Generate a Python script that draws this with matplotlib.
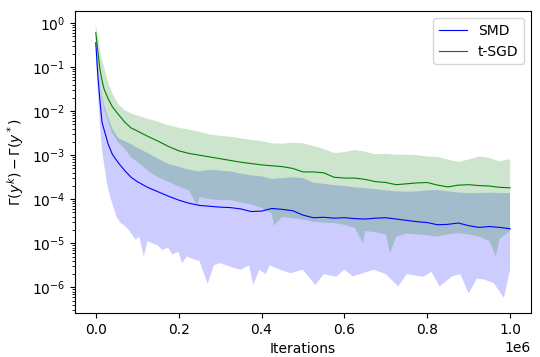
import numpy as np
import matplotlib
matplotlib.use("Agg")
import matplotlib.pyplot as plt

# iteration positions (in units of 1e6) for mean curves and upper bands
iters = [0, 0.005, 0.01, 0.015, 0.02, 0.03, 0.04, 0.055, 0.07, 0.085,
         0.1, 0.125, 0.15, 0.175, 0.2, 0.225, 0.25, 0.275, 0.3, 0.325,
         0.35, 0.375, 0.4, 0.425, 0.45, 0.475, 0.5, 0.525, 0.55, 0.575,
         0.6, 0.625, 0.65, 0.675, 0.7, 0.725, 0.75, 0.775, 0.8, 0.825,
         0.85, 0.875, 0.9, 0.925, 0.95, 0.975, 1.0]

# values, stored as log10 exponents
smd_mean = [-0.45, -1.2, -1.75, -2.25, -2.42, -2.75, -2.98, -3.18, -3.35, -3.5,
            -3.6, -3.73, -3.83, -3.93, -4.02, -4.09, -4.14, -4.16, -4.18, -4.19,
            -4.22, -4.28, -4.27, -4.21, -4.23, -4.26, -4.36, -4.42, -4.41, -4.43,
            -4.42, -4.44, -4.45, -4.43, -4.42, -4.45, -4.48, -4.51, -4.53, -4.58,
            -4.57, -4.54, -4.6, -4.64, -4.62, -4.64, -4.67]
smd_upper = [-0.3, -0.9, -1.35, -1.65, -1.85, -2.15, -2.4, -2.62, -2.68, -2.75,
             -2.83, -2.95, -3.08, -3.2, -3.26, -3.33, -3.37, -3.33, -3.35, -3.37,
             -3.42, -3.46, -3.48, -3.54, -3.52, -3.5, -3.52, -3.62, -3.65, -3.68,
             -3.7, -3.73, -3.75, -3.77, -3.8, -3.82, -3.83, -3.82, -3.8, -3.79,
             -3.82, -3.85, -3.86, -3.86, -3.85, -3.86, -3.86]

sgd_mean = [-0.22, -0.65, -1.05, -1.3, -1.5, -1.72, -1.9, -2.08, -2.25, -2.38,
            -2.45, -2.57, -2.68, -2.8, -2.9, -2.96, -3.0, -3.04, -3.08, -3.12,
            -3.16, -3.19, -3.22, -3.24, -3.26, -3.3, -3.38, -3.38, -3.4, -3.5,
            -3.52, -3.52, -3.55, -3.6, -3.62, -3.67, -3.65, -3.63, -3.62, -3.68,
            -3.72, -3.68, -3.67, -3.69, -3.7, -3.73, -3.74]
sgd_upper = [-0.02, -0.3, -0.6, -0.85, -1.0, -1.35, -1.6, -1.85, -1.98, -2.05,
             -2.1, -2.17, -2.24, -2.32, -2.38, -2.42, -2.47, -2.53, -2.56, -2.58,
             -2.62, -2.65, -2.68, -2.73, -2.74, -2.72, -2.73, -2.79, -2.86, -2.95,
             -2.93, -2.88, -2.92, -2.98, -2.97, -2.99, -2.99, -3.0, -3.03, -3.04,
             -3.1, -3.15, -3.1, -3.03, -3.06, -3.14, -3.09]

# lower edges are jagged, read on their own positions
sgd_lower_iters = [0, 0.005, 0.01, 0.015, 0.02, 0.03, 0.04, 0.055, 0.07, 0.085,
                   0.1, 0.125, 0.15, 0.175, 0.2, 0.225, 0.245, 0.25, 0.275, 0.3,
                   0.325, 0.35, 0.375, 0.4, 0.425, 0.43, 0.45, 0.475, 0.5, 0.525,
                   0.55, 0.575, 0.6, 0.625, 0.645, 0.65, 0.675, 0.7, 0.71, 0.725,
                   0.75, 0.775, 0.8, 0.825, 0.85, 0.875, 0.9, 0.925, 0.95, 0.965,
                   0.975, 1.0]
sgd_lower = [-0.4, -0.95, -1.4, -1.7, -1.95, -2.25, -2.5, -2.72, -2.85, -3.05,
             -3.15, -3.35, -3.5, -3.6, -3.71, -3.8, -4.15, -3.95, -4.0, -4.02,
             -4.02, -4.07, -4.12, -4.2, -4.32, -4.6, -4.4, -4.43, -4.46, -4.51,
             -4.53, -4.54, -4.58, -4.65, -5.0, -4.72, -4.75, -4.8, -5.23, -4.85,
             -4.78, -4.8, -4.82, -4.85, -4.8, -4.77, -4.8, -4.85, -4.95, -5.3,
             -4.9, -4.72]

smd_lower_iters = [0, 0.005, 0.01, 0.015, 0.02, 0.027, 0.035, 0.05, 0.06, 0.07,
                   0.08, 0.096, 0.105, 0.116, 0.125, 0.136, 0.15, 0.16, 0.175, 0.184,
                   0.2, 0.208, 0.22, 0.232, 0.25, 0.27, 0.285, 0.3, 0.33, 0.35,
                   0.37, 0.38, 0.395, 0.41, 0.42, 0.445, 0.47, 0.5, 0.53, 0.55,
                   0.58, 0.6, 0.62, 0.645, 0.67, 0.7, 0.73, 0.75, 0.79, 0.81,
                   0.83, 0.86, 0.88, 0.9, 0.92, 0.94, 0.96, 0.985, 1.0]
smd_lower = [-0.6, -1.6, -2.3, -2.88, -3.2, -3.64, -3.95, -4.4, -4.54, -4.6,
             -4.7, -4.92, -4.85, -5.3, -4.95, -5.0, -5.05, -5.15, -5.1, -5.25,
             -5.2, -5.45, -5.3, -5.35, -5.4, -5.92, -5.5, -5.45, -5.55, -5.6,
             -5.5, -5.95, -5.6, -5.7, -5.5, -5.6, -5.68, -5.6, -5.95, -5.7,
             -5.76, -5.6, -5.75, -5.68, -5.6, -5.7, -5.98, -5.7, -5.76, -5.65,
             -5.98, -5.75, -5.7, -6.14, -5.8, -5.83, -5.9, -6.24, -5.6]

x = np.array(iters) * 1e6


def band(upper_x, upper, lower_x, lower):
    # closed outline: upper edge left to right, lower edge back
    bx = np.concatenate([upper_x, np.array(lower_x)[::-1] * 1e6])
    by = 10.0 ** np.concatenate([upper, np.array(lower)[::-1]])
    return bx, by


fig, ax = plt.subplots(figsize=(5.4, 3.57), dpi=100)
fig.subplots_adjust(left=0.139, right=0.983, top=0.969, bottom=0.123)

# SMD
ax.plot(x, 10.0 ** np.array(smd_mean), color='b', lw=0.8, label='SMD')
bx, by = band(x, smd_upper, smd_lower_iters, smd_lower)
ax.fill(bx, by, color='b', alpha=0.2, lw=0)

# t-SGD
ax.plot(x, 10.0 ** np.array(sgd_mean), color='g', lw=0.8, label='t-SGD')
bx, by = band(x, sgd_upper, sgd_lower_iters, sgd_lower)
ax.fill(bx, by, color='g', alpha=0.2, lw=0)

ax.set_yscale('log')
ax.set_xlim(-0.05e6, 1.05e6)
ax.set_ylim(2.6e-7, 1.87)
ax.set_xlabel('Iterations')
ax.set_ylabel(r'$\Gamma(y^k) - \Gamma(y^*)$')
ax.legend(loc='upper right')

plt.savefig('out.png')
